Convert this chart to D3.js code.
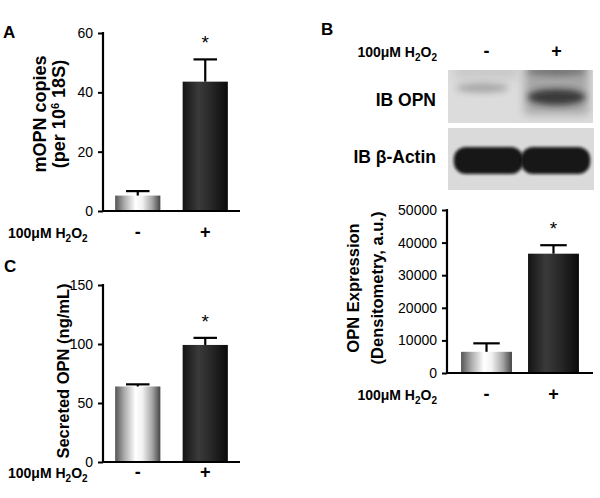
<!DOCTYPE html>
<head>
    <meta charset="utf-8" />
    <script src="https://d3js.org/d3.v7.min.js"></script>
    <style>
        body { margin: 0; background: #fff; }
        svg { font-family: "Liberation Sans", Arial, sans-serif; }
    </style>
</head>
<body>
<script>
    var width = 600, height = 498;

    // data
    var groups = ["-", "+"];
    var mRnaMean = [5.2, 43.6], mRnaErr = [1.5, 7.5];          // A
    var secretedMean = [64, 99.2], secretedErr = [1.8, 6];     // C
    var densMean = [6500, 36600], densErr = [2600, 2600];      // B
    var ticksA = [0, 20, 40, 60];
    var ticksC = [0, 50, 100, 150];
    var ticksB = [0, 10000, 20000, 30000, 40000, 50000];
    // blot band darkness per lane (0..1)
    var opnBand = [0.3, 0.9];
    var actinBand = [0.95, 0.95];

    var svg = d3.select("body").append("svg")
        .attr("width", width).attr("height", height);
    var defs = svg.append("defs");

    var light = defs.append("linearGradient").attr("id", "gLight");
    [[0, "#555"], [0.2, "#aaa"], [0.45, "#fff"], [0.6, "#f2f2f2"], [0.82, "#a5a5a5"], [1, "#444"]]
        .forEach(s => light.append("stop").attr("offset", s[0]).attr("stop-color", s[1]));
    var dark = defs.append("linearGradient").attr("id", "gDark");
    [[0, "#141414"], [0.35, "#3a3a3a"], [0.6, "#2a2a2a"], [1, "#0a0a0a"]]
        .forEach(s => dark.append("stop").attr("offset", s[0]).attr("stop-color", s[1]));
    [1.5, 3, 5].forEach(b => {
        defs.append("filter").attr("id", "blur" + b)
            .attr("x", "-50%").attr("y", "-50%").attr("width", "200%").attr("height", "200%")
            .append("feGaussianBlur").attr("stdDeviation", b);
    });

    function h2o2(sel, x, y, anchor) {
        var t = sel.append("text").attr("x", x).attr("y", y)
            .attr("font-size", 14).attr("font-weight", "bold")
            .attr("text-anchor", anchor || "start");
        t.append("tspan").text("100μM H");
        t.append("tspan").attr("font-size", 10).attr("dy", 4).text("2");
        t.append("tspan").attr("dy", -4).text("O");
        t.append("tspan").attr("font-size", 10).attr("dy", 4).text("2");
    }

    function barPanel(o) {
        var g = svg.append("g");
        var x = d3.scaleBand().domain(groups).range([o.x0, o.x1])
            .paddingInner(o.pi).paddingOuter(o.po);
        var y = d3.scaleLinear().domain([0, o.max]).range([o.y0, o.y1]);

        var bw = x.bandwidth();
        g.selectAll("rect.bar").data(groups).join("rect")
            .attr("class", "bar")
            .attr("x", d => x(d))
            .attr("width", bw)
            .attr("y", (d, i) => y(o.mean[i]))
            .attr("height", (d, i) => o.y0 - y(o.mean[i]))
            .attr("fill", (d, i) => i == 0 ? "url(#gLight)" : "url(#gDark)");

        // error bars, upper half only
        groups.forEach((d, i) => {
            var cx = x(d) + bw / 2;
            g.append("line").attr("x1", cx).attr("x2", cx)
                .attr("y1", y(o.mean[i])).attr("y2", y(o.mean[i] + o.err[i]))
                .attr("stroke", "#000").attr("stroke-width", 2.2);
            g.append("line").attr("x1", cx - bw * 0.26).attr("x2", cx + bw * 0.26)
                .attr("y1", y(o.mean[i] + o.err[i])).attr("y2", y(o.mean[i] + o.err[i]))
                .attr("stroke", "#000").attr("stroke-width", 2.2);
        });

        var cx2 = x("+") + bw / 2;
        g.append("text").attr("x", cx2).attr("y", y(o.mean[1] + o.err[1]) - 10)
            .attr("text-anchor", "middle").attr("font-size", 19).text("*");

        var ax = g.append("g").attr("transform", "translate(" + o.x0 + ",0)")
            .call(d3.axisLeft(y).tickValues(o.ticks).tickSize(5).tickPadding(5).tickFormat(d3.format("d")));
        ax.select(".domain").remove();
        ax.selectAll("line").attr("stroke-width", 2);
        ax.selectAll("text").attr("font-size", 14).attr("fill", "#000")
            .attr("font-family", "Liberation Sans, Arial, sans-serif");
        g.append("line").attr("x1", o.x0).attr("x2", o.x0)
            .attr("y1", o.y1 - 1).attr("y2", o.y0 + 1)
            .attr("stroke", "#000").attr("stroke-width", 2.2);
        g.append("line").attr("x1", o.x0 - 1).attr("x2", o.x1)
            .attr("y1", o.y0).attr("y2", o.y0)
            .attr("stroke", "#000").attr("stroke-width", 2.2);

        o.ylabel.forEach((lab, k) => {
            var t = g.append("text")
                .attr("transform", "translate(" + o.labX[k] + "," + o.labY + ") rotate(-90)")
                .attr("text-anchor", "middle").attr("dy", "0.35em")
                .attr("font-size", o.labFont).attr("font-weight", "bold");
            lab.forEach(p => {
                var s = t.append("tspan").text(p[0]);
                if (p[1]) s.attr("font-size", o.labFont * 0.62).attr("dy", -6);
                if (p[2]) s.attr("dy", 6);
            });
        });

        h2o2(g, o.condX, o.condY, o.condAnchor);
        groups.forEach(d => {
            g.append("text").attr("x", x(d) + bw / 2).attr("y", o.condY)
                .attr("text-anchor", "middle").attr("font-size", 18).attr("font-weight", "bold")
                .text(d);
        });
        return x;
    }

    // panel A
    barPanel({
        x0: 103, x1: 240, pi: 0.33, po: 0.18, y0: 211, y1: 33, max: 60,
        mean: mRnaMean, err: mRnaErr, ticks: ticksA,
        ylabel: [[["mOPN copies"]], [["(per 10"], ["6", true], [" 18S)", false, true]]],
        labX: [40, 59], labY: 114, labFont: 18,
        condX: 8, condY: 238
    });
    // panel C
    barPanel({
        x0: 103, x1: 240, pi: 0.33, po: 0.18, y0: 462, y1: 285, max: 150,
        mean: secretedMean, err: secretedErr, ticks: ticksC,
        ylabel: [[["Secreted OPN (ng/mL)"]]],
        labX: [63], labY: 371, labFont: 16.5,
        condX: 8, condY: 478
    });
    // panel B chart
    barPanel({
        x0: 447, x1: 593, pi: 0.24, po: 0.21, y0: 373, y1: 210, max: 50000,
        mean: densMean, err: densErr, ticks: ticksB,
        ylabel: [[["OPN Expression"]], [["(Densitometry, a.u.)"]]],
        labX: [353, 377], labY: 288, labFont: 16.5,
        condX: 437, condY: 400, condAnchor: "end"
    });

    // panel letters
    [["A", 3, 38], ["C", 4, 272], ["B", 321, 35]].forEach(l => {
        svg.append("text").attr("x", l[1]).attr("y", l[2])
            .attr("font-size", 17).attr("font-weight", "bold").text(l[0]);
    });

    // western blot
    var blot = svg.append("g");
    var lane = d3.scaleBand().domain(groups).range([450, 593]).padding(0.04);
    h2o2(blot, 437, 57, "end");
    groups.forEach(d => {
        blot.append("text").attr("x", lane(d) + lane.bandwidth() / 2).attr("y", 57)
            .attr("text-anchor", "middle").attr("font-size", 18).attr("font-weight", "bold").text(d);
    });

    var clipO = defs.append("clipPath").attr("id", "clipO");
    clipO.append("rect").attr("x", 448).attr("y", 70).attr("width", 145).attr("height", 53);
    var clipA = defs.append("clipPath").attr("id", "clipA");
    clipA.append("rect").attr("x", 448).attr("y", 128).attr("width", 146).attr("height", 62);

    var opn = blot.append("g").attr("clip-path", "url(#clipO)");
    opn.append("rect").attr("x", 448).attr("y", 70).attr("width", 145).attr("height", 53).attr("fill", "#dcdcdc");
    opnBand.forEach((v, i) => {
        var cx = lane(groups[i]) + lane.bandwidth() / 2;
        // smear
        opn.append("rect").attr("x", cx - 32).attr("y", 62).attr("width", 64).attr("height", 58 * v)
            .attr("fill", "#777").attr("opacity", v * 0.6).attr("filter", "url(#blur5)");
        opn.append("ellipse").attr("cx", cx).attr("cy", 71).attr("rx", 30).attr("ry", 5)
            .attr("fill", "#444").attr("opacity", v > 0.5 ? 0.5 : 0).attr("filter", "url(#blur3)");
        opn.append("ellipse").attr("cx", cx - (i == 0 ? 4 : 0)).attr("cy", i == 0 ? 88 : 97)
            .attr("rx", i == 0 ? 26 : 29).attr("ry", i == 0 ? 5 : 8)
            .attr("fill", "#222").attr("opacity", v * 0.9).attr("filter", "url(#blur3)");
    });
    blot.append("text").attr("x", 436).attr("y", 106).attr("text-anchor", "end")
        .attr("font-size", 17.5).attr("font-weight", "bold").text("IB OPN");

    var act = blot.append("g").attr("clip-path", "url(#clipA)");
    act.append("rect").attr("x", 448).attr("y", 128).attr("width", 146).attr("height", 62).attr("fill", "#dadada");
    actinBand.forEach((v, i) => {
        var bx = lane(groups[i]);
        act.append("rect").attr("x", bx + (i == 0 ? 1 : -2)).attr("y", 147).attr("width", lane.bandwidth() + 2).attr("height", 27)
            .attr("rx", 12).attr("fill", "#0d0d0d").attr("opacity", v).attr("filter", "url(#blur1.5)");
    });
    blot.append("text").attr("x", 436).attr("y", 163).attr("text-anchor", "end")
        .attr("font-size", 17.5).attr("font-weight", "bold").text("IB β-Actin");
</script>
</body>
